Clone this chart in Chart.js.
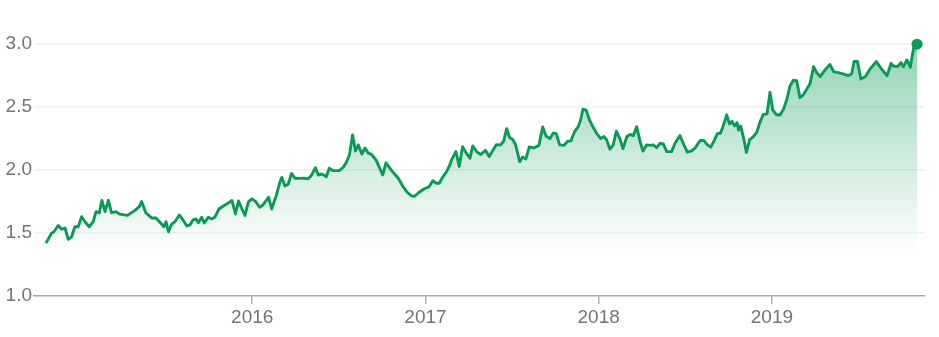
<!DOCTYPE html>
<html><head><meta charset="utf-8">
<script src="https://cdn.jsdelivr.net/npm/chart.js@4.4.1/dist/chart.umd.min.js"></script>
<style>html,body{margin:0;padding:0;background:#fff}#wrap{width:939px;height:337px;position:relative}</style>
</head><body><div id="wrap"><canvas id="c"></canvas></div>
<script>
// Time of each sample, as decimal years
const timeYears = [
2014.809,2014.842,2014.855,2014.880,2014.900,2014.919,2014.938,2014.957,2014.976,2014.995,2015.015,2015.034,2015.059,2015.082,2015.098,2015.117,2015.132,2015.150,2015.169,2015.188,2015.213,2015.236,2015.278,2015.323,2015.348,2015.361,2015.386,2015.419,2015.444,2015.471,2015.490,2015.502,2015.517,2015.535,2015.554,
2015.579,2015.600,2015.623,2015.640,2015.658,2015.675,2015.689,2015.708,2015.723,2015.746,2015.766,2015.785,2015.808,2015.833,2015.857,2015.883,2015.903,2015.921,2015.938,2015.958,2015.978,2015.998,2016.021,2016.042,2016.062,2016.094,2016.112,2016.140,2016.160,2016.170,2016.189,2016.208,2016.227,2016.247,2016.275,
2016.298,2016.323,2016.343,2016.365,2016.381,2016.401,2016.417,2016.428,2016.445,2016.466,2016.502,2016.525,2016.545,2016.561,2016.579,2016.596,2016.612,2016.633,2016.651,2016.670,2016.689,2016.716,2016.753,2016.772,2016.805,2016.843,2016.873,2016.893,2016.919,2016.936,2016.962,2016.991,2017.020,2017.042,2017.061,2017.080,2017.099,2017.122,2017.141,
2017.151,2017.176,2017.195,2017.214,2017.236,2017.257,2017.273,2017.297,2017.320,2017.346,2017.368,2017.409,2017.434,2017.452,2017.469,2017.486,2017.503,2017.520,2017.544,2017.561,2017.580,2017.599,2017.625,2017.655,2017.677,2017.696,2017.719,2017.738,2017.755,2017.775,2017.800,
2017.821,2017.840,2017.860,2017.882,2017.896,2017.909,2017.928,2017.947,2017.964,2017.990,2018.012,2018.031,2018.046,2018.065,2018.084,2018.102,2018.123,2018.140,2018.163,2018.181,2018.200,2018.219,2018.241,2018.256,2018.277,2018.300,2018.315,2018.335,2018.354,2018.373,2018.393,2018.421,2018.441,2018.469,2018.492,2018.512,2018.537,2018.556,
2018.568,2018.588,2018.608,2018.628,2018.647,2018.669,2018.685,2018.703,2018.719,2018.739,2018.755,2018.770,2018.784,2018.799,2018.807,2018.820,2018.839,2018.853,2018.871,2018.893,2018.912,2018.931,2018.950,2018.972,2018.989,2019.005,2019.025,2019.047,2019.068,2019.087,2019.105,2019.124,2019.143,2019.162,2019.181,2019.201,2019.220,2019.241,2019.259,2019.279,
2019.307,2019.335,2019.356,2019.383,2019.411,2019.441,2019.461,2019.474,2019.494,2019.514,2019.540,2019.568,2019.603,2019.632,2019.665,2019.688,2019.705,2019.728,2019.745,2019.759,2019.780,2019.799,2019.819,2019.838
];
const values = [
1.42,1.50,1.51,1.56,1.53,1.54,1.45,1.47,1.55,1.55,1.63,1.59,1.55,1.59,1.67,1.66,1.76,1.67,1.76,1.66,1.67,1.65,1.64,1.68,1.71,1.75,1.66,1.62,1.62,1.58,1.55,1.59,1.51,1.57,1.59,
1.644,1.604,1.556,1.564,1.604,1.612,1.582,1.625,1.580,1.625,1.612,1.628,1.691,1.715,1.735,1.759,1.652,1.755,1.699,1.640,1.747,1.771,1.749,1.705,1.723,1.784,1.691,1.803,1.906,1.942,1.874,1.890,1.973,1.935,1.934,
1.935,1.930,1.961,2.019,1.961,1.969,1.957,1.948,2.015,1.996,1.996,2.021,2.067,2.120,2.279,2.152,2.200,2.128,2.176,2.134,2.124,2.077,1.961,2.057,1.996,1.935,1.864,1.826,1.795,1.792,1.822,1.850,1.866,1.916,1.896,1.896,1.943,1.988,2.041,
2.081,2.148,2.029,2.186,2.134,2.094,2.192,2.144,2.124,2.158,2.108,2.202,2.200,2.232,2.329,2.259,2.244,2.204,2.067,2.104,2.089,2.184,2.176,2.196,2.343,2.271,2.250,2.295,2.290,2.200,2.196,
2.229,2.232,2.303,2.345,2.398,2.484,2.476,2.398,2.351,2.287,2.250,2.266,2.240,2.166,2.200,2.309,2.248,2.170,2.267,2.283,2.273,2.345,2.216,2.152,2.200,2.196,2.200,2.178,2.213,2.208,2.147,2.147,2.213,2.274,2.200,2.142,2.152,2.174,
2.200,2.237,2.234,2.200,2.182,2.240,2.290,2.293,2.351,2.438,2.367,2.387,2.351,2.377,2.319,2.351,2.240,2.140,2.240,2.266,2.299,2.379,2.442,2.446,2.619,2.478,2.442,2.438,2.486,2.565,2.669,2.714,2.711,2.575,2.597,2.642,2.685,2.822,2.774,2.742,
2.796,2.839,2.782,2.774,2.764,2.750,2.766,2.862,2.862,2.724,2.744,2.805,2.862,2.805,2.750,2.847,2.824,2.825,2.854,2.820,2.875,2.817,2.975,3.00
];
const yearTicks = [2016, 2017, 2018, 2019];
const valueTicks = [1.0, 1.5, 2.0, 2.5, 3.0];

const GREEN = '#0b9a56';
const points = timeYears.map((t, i) => ({ x: t, y: values[i] }));
const lastIdx = points.length - 1;

new Chart(document.getElementById('c'), {
  type: 'line',
  data: { datasets: [{
    data: points,
    borderColor: GREEN,
    borderWidth: 2.9,
    borderJoinStyle: 'round',
    tension: 0,
    fill: 'start',
    backgroundColor: (ctx) => {
      const ch = ctx.chart; const a = ch.chartArea;
      if (!a) return 'rgba(15,157,88,0.2)';
      const g = ch.ctx.createLinearGradient(0, a.top + 22, 0, a.top + 235);
      g.addColorStop(0, 'rgba(15,157,88,0.45)');
      g.addColorStop(1, 'rgba(15,157,88,0.0)');
      return g;
    },
    pointRadius: (ctx) => ctx.dataIndex === lastIdx ? 5.5 : 0,
    pointBackgroundColor: GREEN,
    pointBorderWidth: 0,
    pointHoverRadius: 0
  }]},
  options: {
    responsive: true, maintainAspectRatio: false, animation: false,
    events: [],
    layout: { padding: { left: 0, right: 14, top: 19, bottom: 0 } },
    plugins: { legend: { display: false }, tooltip: { enabled: false } },
    scales: {
      x: {
        type: 'linear', min: 2014.740, max: 2019.884,
        afterBuildTicks: (s) => { s.ticks = yearTicks.map(v => ({ value: v })); },
        afterFit: (s) => { s.height = 41; },
        grid: { display: true, drawOnChartArea: false, drawTicks: true, tickLength: 8, color: '#b0b0b0', lineWidth: 1.5 },
        border: { display: true, color: '#a8a8a8', width: 1.6 },
        ticks: { padding: 2, color: '#70757a', font: { family: '"Liberation Sans", Arial, sans-serif', size: 19 },
          callback: (v) => String(v), maxRotation: 0, autoSkip: false }
      },
      y: {
        min: 1.0, max: 3.2,
        afterBuildTicks: (s) => { s.ticks = valueTicks.map(v => ({ value: v })); },
        afterFit: (s) => { s.width = 34; },
        grid: { drawTicks: false, color: (c) => c.tick && c.tick.value === 1 ? 'rgba(0,0,0,0)' : '#f0f0f0', lineWidth: 1.5 },
        border: { display: false },
        ticks: { padding: 2, color: '#70757a', font: { family: '"Liberation Sans", Arial, sans-serif', size: 19 },
          callback: (v) => Number(v).toFixed(1) }
      }
    }
  }
});
</script>
</body></html>
